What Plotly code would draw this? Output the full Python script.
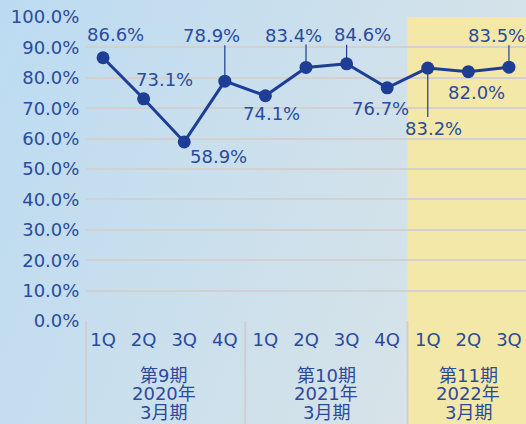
import base64
import plotly.graph_objects as go

# ---- data ----
quarters = ["1Q", "2Q", "3Q", "4Q", "1Q", "2Q", "3Q", "4Q", "1Q", "2Q", "3Q"]
values = [86.6, 73.1, 58.9, 78.9, 74.1, 83.4, 84.6, 76.7, 83.2, 82.0, 83.5]
group_sizes = [4, 4, 3]
group_period = ["第9期", "第10期", "第11期"]
group_year = ["2020年", "2021年", "2022年"]
group_month = ["3月期", "3月期", "3月期"]
y_ticks = [0, 10, 20, 30, 40, 50, 60, 70, 80, 90, 100]

# label placement (pixel offsets from point) and leader lines (pixels, up = +)
label_dx = [12, 21, 34, -13, 6, -13, 16, -7, 6, 8, -12]
label_dy = [23, 19, -15, 46, -18, 32, 29, -21, -60, -21, 32]
leader_len = [0, 0, 0, 36, 0, 23, 19, 0, -49, 0, 22]

LINE = "#1e3d94"
TEXT = "#2a4b9c"
GRID = "#d2d1cf"
DIV = "#cdd0d3"
FONT = "DejaVu Sans"
CJK = "DejaVu Sans, Noto Sans CJK JP"

W, H = 526, 424
ML, MR, MT, MB = 86, 0, 17, 103
x_idx = list(range(len(values)))
x_range = [-0.42, len(values) - 1 + 0.42]

fig = go.Figure()
fig.add_trace(go.Scatter(
    x=x_idx, y=values, mode="lines+markers",
    line=dict(color=LINE, width=3),
    marker=dict(color=LINE, size=13),
    cliponaxis=False, hoverinfo="skip", showlegend=False,
))

# background gradient as an SVG image
svg = f'''<svg xmlns="http://www.w3.org/2000/svg" width="{W}" height="{H}">
<defs><linearGradient id="g" x1="0" y1="0" x2="1" y2="0.35">
<stop offset="0" stop-color="#bcdbf2"/><stop offset="1" stop-color="#d7e3e8"/>
</linearGradient></defs><rect width="{W}" height="{H}" fill="url(#g)"/></svg>'''
src = "data:image/svg+xml;base64," + base64.b64encode(svg.encode()).decode()
pw, ph = W - ML - MR, H - MT - MB
fig.add_layout_image(dict(
    source=src, xref="paper", yref="paper",
    x=-ML / pw, y=1 + MT / ph, sizex=W / pw, sizey=H / ph,
    xanchor="left", yanchor="top", sizing="stretch", layer="below",
))

# group boundaries
bounds = []
acc = 0
for s in group_sizes:
    bounds.append((acc - 0.5, acc + s - 0.5))
    acc += s

# yellow highlight for the last group
fig.add_shape(type="rect", xref="x", yref="paper",
              x0=bounds[-1][0], x1=x_range[1], y0=-MB / ph, y1=1,
              fillcolor="#f4e8a9", line=dict(width=0), layer="below")

# dividers below axis
fig.add_shape(type="line", xref="paper", yref="paper", x0=0, x1=0,
              y0=0, y1=-MB / ph, line=dict(color=DIV, width=2))
for b in bounds[1:]:
    fig.add_shape(type="line", xref="x", yref="paper", x0=b[0], x1=b[0],
                  y0=0, y1=-MB / ph, line=dict(color=DIV, width=2))

# group labels
for (a, b), p, yv, m in zip(bounds, group_period, group_year, group_month):
    cx = (a + b) / 2
    for txt, sh in ((p, -54), (yv, -72.5), (m, -91)):
        fig.add_annotation(x=cx, y=0, xref="x", yref="paper", text=txt,
                           showarrow=False, yshift=sh, xanchor="center", yanchor="middle",
                           borderpad=0,
                           font=dict(family=CJK, size=18, color=TEXT))

# leader lines
for i, (v, L) in enumerate(zip(values, leader_len)):
    if L:
        fig.add_shape(type="line", xref="x", yref="y", ysizemode="pixel", yanchor=v,
                      x0=i, x1=i, y0=0, y1=L, line=dict(color=LINE, width=1.2))

# data labels
for i, v in enumerate(values):
    fig.add_annotation(x=i, y=v, text=f"{v:.1f}%", showarrow=False,
                       xshift=label_dx[i], yshift=label_dy[i],
                       xanchor="center", yanchor="middle",
                       font=dict(family=FONT, size=18, color=TEXT))

fig.update_layout(
    width=W, height=H, autosize=False,
    margin=dict(l=ML, r=MR, t=MT, b=MB, pad=0),
    paper_bgcolor="#c8dfee", plot_bgcolor="rgba(0,0,0,0)",
    xaxis=dict(range=x_range, tickvals=x_idx, ticktext=quarters,
               showgrid=False, zeroline=False, showline=False,
               ticks="outside", ticklen=2, tickcolor="rgba(0,0,0,0)",
               tickfont=dict(family=FONT, size=18, color=TEXT)),
    yaxis=dict(range=[0, 100], tickvals=y_ticks,
               ticktext=[f"{t:.1f}%" for t in y_ticks],
               showgrid=True, gridcolor=GRID, gridwidth=2,
               zeroline=False, showline=False,
               ticks="outside", ticklen=2, tickcolor="rgba(0,0,0,0)",
               tickfont=dict(family=FONT, size=18, color=TEXT)),
)

fig.write_html("out.html", config={"displayModeBar": False},
               post_script="document.body.style.margin='0';document.body.style.overflow='hidden';")
